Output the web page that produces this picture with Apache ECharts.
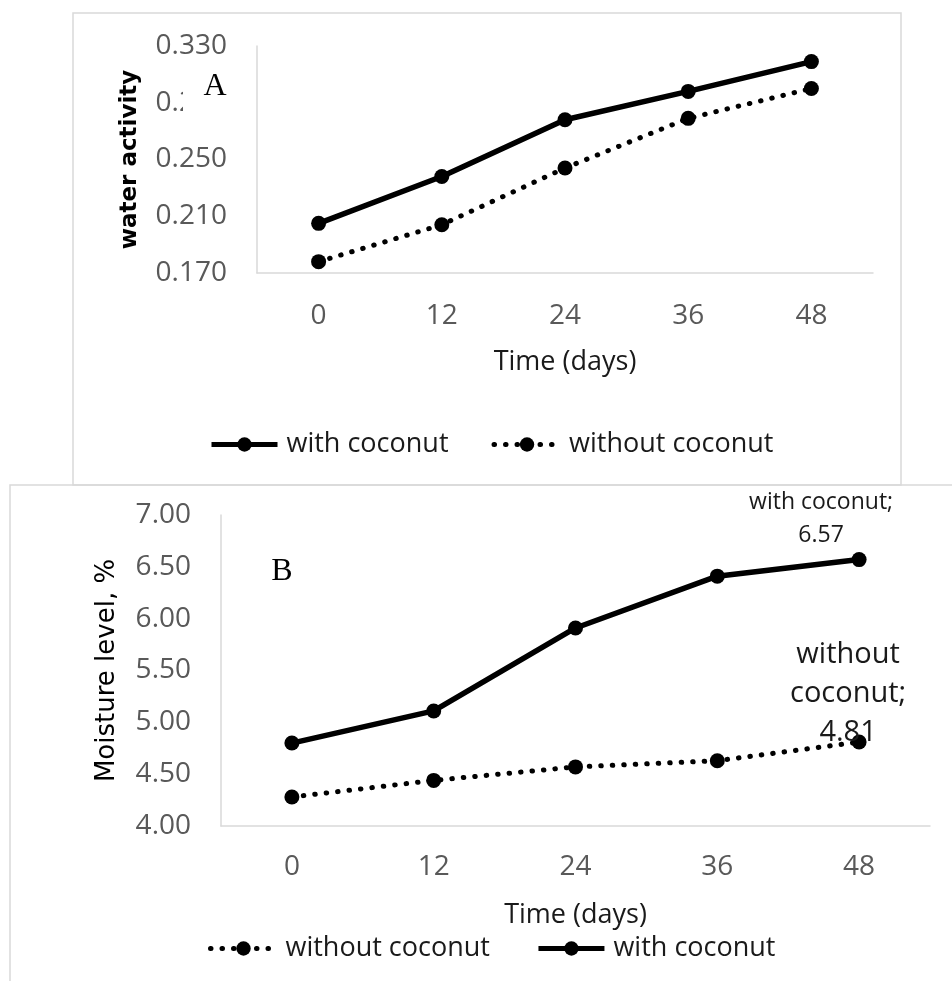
<!DOCTYPE html>
<html>
<head>
<meta charset="utf-8">
<script src="https://cdn.jsdelivr.net/npm/echarts@6/dist/echarts.min.js"></script>
<style>
  html, body { margin: 0; padding: 0; background: #fff; }
  #chart { width: 952px; height: 981px; }
</style>
</head>
<body>
<div id="chart"></div>
<script>
// shared x categories (days)
const days = ['0', '12', '24', '36', '48'];

// panel A: water activity
const waterWith = [0.205, 0.238, 0.278, 0.298, 0.319];
const waterWithout = [0.178, 0.204, 0.244, 0.279, 0.300];
const waterTicks = [0.17, 0.21, 0.25, 0.29, 0.33];

// panel B: moisture level, %
const moistWith = [4.80, 5.11, 5.91, 6.41, 6.57];
const moistWithout = [4.28, 4.44, 4.57, 4.63, 4.81];
const moistTicks = [4.0, 4.5, 5.0, 5.5, 6.0, 6.5, 7.0];

const SANS = '"Open Sans", "Noto Sans", sans-serif';
const SERIF = '"Liberation Serif", "DejaVu Serif", serif';
const AXIS_GREY = '#d9d9d9';
const TICK_GREY = '#595959';

const solid = { color: '#000', width: 5.5 };
const dotted = { color: '#000', width: 5, type: [0.5, 11], cap: 'round' };

const xAxisBase = (gridIndex, margin) => ({
  type: 'category',
  gridIndex,
  data: days,
  boundaryGap: true,
  axisTick: { show: false },
  axisLine: { lineStyle: { color: AXIS_GREY, width: 1.5 } },
  axisLabel: { color: TICK_GREY, fontSize: 28, fontFamily: SANS, margin },
  name: 'Time (days)',
  nameLocation: 'middle',
  nameGap: 76,
  nameTextStyle: { color: '#1a1a1a', fontSize: 27, fontFamily: SANS }
});

const lineSeries = (name, data, xi, style, label) => ({
  name,
  type: 'line',
  xAxisIndex: xi,
  yAxisIndex: xi,
  data,
  symbol: 'circle',
  symbolSize: 15,
  itemStyle: { color: '#000' },
  lineStyle: style,
  label: label || { show: false },
  z: 3
});

const legendBase = (data, left, top, gap) => ({
  data,
  left, top,
  itemWidth: 66, itemHeight: 18, itemGap: gap,
  lineStyle: { width: 5 },
  textStyle: { color: '#1a1a1a', fontSize: 27, fontFamily: SANS, padding: [0, 0, 0, 4] }
});

const option = {
  animation: false,
  backgroundColor: '#fff',
  grid: [
    { left: 257, right: 79, top: 46, height: 227 },
    { left: 221, right: 22, top: 515, height: 311 }
  ],
  xAxis: [xAxisBase(0, 29), xAxisBase(1, 27)],
  yAxis: [
    {
      type: 'value',
      gridIndex: 0,
      min: waterTicks[0],
      max: waterTicks[waterTicks.length - 1],
      interval: waterTicks[1] - waterTicks[0],
      splitLine: { show: false },
      axisTick: { show: false },
      axisLine: { show: true, lineStyle: { color: AXIS_GREY, width: 1.5 } },
      axisLabel: { color: TICK_GREY, fontSize: 28, fontFamily: SANS, margin: 30, formatter: v => v.toFixed(3) },
      name: 'water activity',
      nameLocation: 'middle',
      nameGap: 115,
      nameTextStyle: { color: '#000', fontSize: 23, fontWeight: 'bold', fontFamily: '"DejaVu Sans", sans-serif' }
    },
    {
      type: 'value',
      gridIndex: 1,
      min: moistTicks[0],
      max: moistTicks[moistTicks.length - 1],
      interval: moistTicks[1] - moistTicks[0],
      splitLine: { show: false },
      axisTick: { show: false },
      axisLine: { show: true, lineStyle: { color: AXIS_GREY, width: 1.5 } },
      axisLabel: { color: TICK_GREY, fontSize: 28, fontFamily: SANS, margin: 30, formatter: v => v.toFixed(2) },
      name: 'Moisture level, %',
      nameLocation: 'middle',
      nameGap: 101,
      nameTextStyle: { color: '#000', fontSize: 26, fontFamily: '"DejaVu Sans", sans-serif' }
    }
  ],
  legend: [
    legendBase(['with coconut', 'without coconut'], 204, 426, 43),
    legendBase(['without coconut', 'with coconut'], 203, 930, 46)
  ],
  series: [
    lineSeries('with coconut', waterWith, 0, solid),
    lineSeries('without coconut', waterWithout, 0, dotted),
    lineSeries('with coconut', moistWith, 1, solid, {
      show: true,
      position: 'top',
      distance: 0,
      offset: [-38, 0],
      align: 'center',
      color: '#1a1a1a',
      fontSize: 23,
      lineHeight: 33,
      fontFamily: SANS,
      formatter: p => p.dataIndex === moistWith.length - 1 ? p.seriesName + ';\n' + p.value.toFixed(2) : ''
    }),
    lineSeries('without coconut', moistWithout, 1, dotted, {
      show: true,
      position: 'top',
      distance: 0,
      offset: [-11, 18],
      align: 'center',
      color: '#1a1a1a',
      fontSize: 29,
      lineHeight: 39,
      fontFamily: SANS,
      formatter: p => p.dataIndex === moistWithout.length - 1 ? p.seriesName.replace(' ', '\n') + ';\n' + p.value.toFixed(2) : ''
    })
  ],
  graphic: [
    { type: 'rect', z: 0, shape: { x: 73, y: 13, width: 828, height: 472 }, style: { fill: 'none', stroke: AXIS_GREY, lineWidth: 1.5 } },
    { type: 'rect', z: 0, shape: { x: 10, y: 485, width: 980, height: 520 }, style: { fill: 'none', stroke: AXIS_GREY, lineWidth: 1.5 } },
    { type: 'rect', z: 100, shape: { x: 183, y: 62, width: 60, height: 56 }, style: { fill: '#fff' } },
    { type: 'text', z: 101, x: 215, y: 87, style: { text: 'A', font: '32px ' + SERIF, fill: '#000', align: 'center', verticalAlign: 'middle' } },
    { type: 'text', z: 101, x: 282, y: 572, style: { text: 'B', font: '32px ' + SERIF, fill: '#000', align: 'center', verticalAlign: 'middle' } }
  ]
};

const chart = echarts.init(document.getElementById('chart'));
chart.setOption(option);
</script>
</body>
</html>
